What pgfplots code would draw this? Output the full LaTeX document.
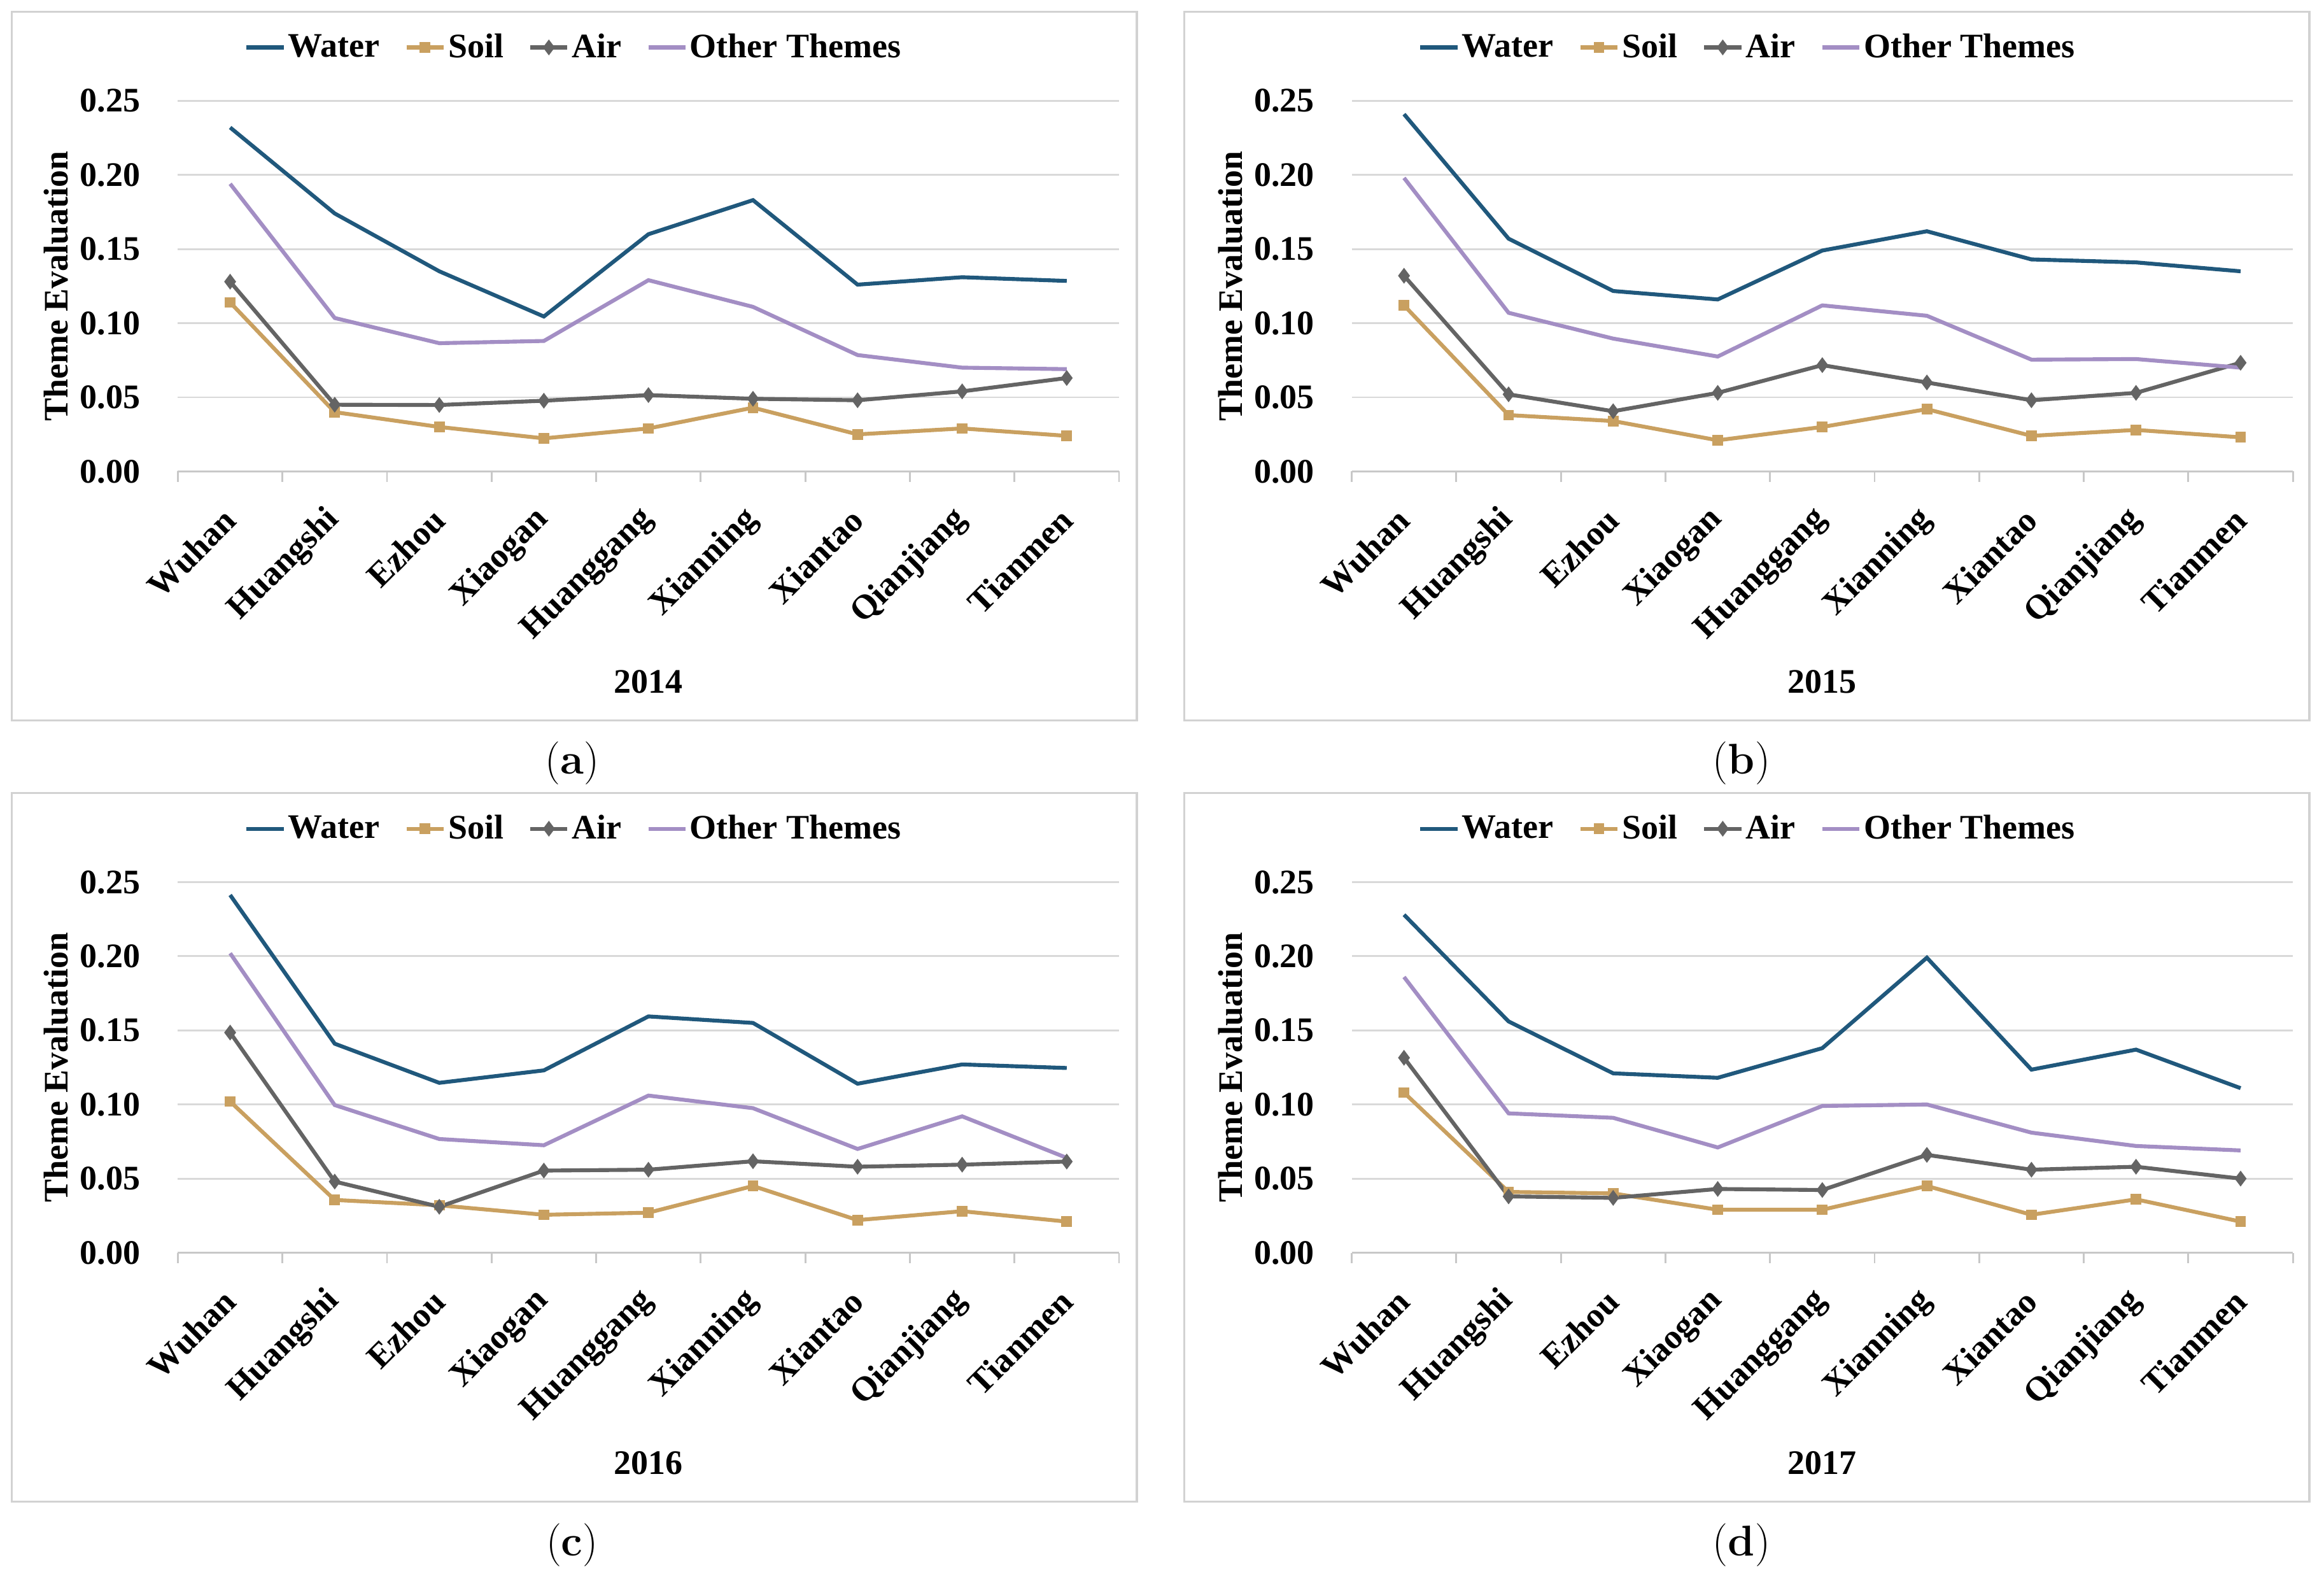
\documentclass[border=0pt]{standalone}
\usepackage{fontspec}
\usepackage{pgfplots}
\pgfplotsset{compat=1.18}
\usepackage{pgfplotstable}
\newfontfamily\tnr{Liberation Serif}
\newcommand\cf{\tnr\bfseries\fontsize{13.2pt}{15pt}\selectfont}
\newcommand\capf{\rmfamily\fontsize{16.5pt}{19pt}\selectfont}
\definecolor{cwater}{RGB}{32,88,124}
\definecolor{csoil}{RGB}{201,160,96}
\definecolor{cair}{RGB}{100,100,100}
\definecolor{cother}{RGB}{163,142,196}
\definecolor{gridgray}{RGB}{217,217,217}
\definecolor{axisgray}{RGB}{200,200,200}
\definecolor{boxgray}{RGB}{210,210,210}

\pgfplotstableread{
x water soil air other
1 0.232 0.114 0.128 0.194
2 0.174 0.040 0.045 0.1035
3 0.135 0.030 0.0448 0.0865
4 0.1045 0.0223 0.0477 0.088
5 0.160 0.029 0.0515 0.129
6 0.183 0.043 0.049 0.111
7 0.126 0.025 0.048 0.0785
8 0.131 0.029 0.054 0.070
9 0.1285 0.024 0.063 0.069
}\tabA
\pgfplotstableread{
x water soil air other
1 0.241 0.112 0.132 0.198
2 0.157 0.038 0.052 0.107
3 0.1217 0.034 0.0406 0.0896
4 0.116 0.021 0.053 0.0775
5 0.149 0.030 0.0717 0.112
6 0.162 0.042 0.060 0.105
7 0.143 0.024 0.048 0.0754
8 0.141 0.028 0.053 0.0758
9 0.135 0.023 0.0733 0.070
}\tabB
\pgfplotstableread{
x water soil air other
1 0.2413 0.102 0.1485 0.202
2 0.141 0.0356 0.048 0.0996
3 0.1146 0.032 0.031 0.0767
4 0.123 0.0256 0.0554 0.0725
5 0.1594 0.027 0.056 0.106
6 0.155 0.045 0.0617 0.0975
7 0.114 0.022 0.058 0.070
8 0.127 0.028 0.0594 0.092
9 0.1246 0.021 0.0615 0.064
}\tabC
\pgfplotstableread{
x water soil air other
1 0.228 0.108 0.1315 0.186
2 0.156 0.041 0.038 0.094
3 0.121 0.040 0.037 0.091
4 0.118 0.029 0.043 0.071
5 0.138 0.029 0.0423 0.099
6 0.199 0.045 0.066 0.100
7 0.1235 0.0256 0.056 0.081
8 0.137 0.036 0.058 0.072
9 0.111 0.021 0.050 0.069
}\tabD

\pgfplotsset{
 myaxis/.style={
  anchor=south west,
  scale only axis,
  width=127mm, height=50mm,
  xmin=0.5, xmax=9.5, ymin=0, ymax=0.25,
  ytick={0,0.05,...,0.25},
  xtick={1,...,9},
  xticklabels={Wuhan,Huangshi,Ezhou,Xiaogan,Huanggang,Xianning,Xiantao,Qianjiang,Tianmen},
  axis x line*=bottom,
  axis y line*=left,
  y axis line style={draw=none},
  x axis line style={draw=axisgray, line width=0.25mm},
  major tick length=0pt,
  tick align=outside,
  tick style={draw=axisgray, line width=0.25mm},
  extra x ticks={0.5,1.5,...,9.5},
  extra x tick labels={},
  extra x tick style={major tick length=1.4mm, grid=none},
  ymajorgrids,
  grid style={draw=gridgray, line width=0.25mm},
  /pgf/number format/assume math mode=true,
  yticklabel style={font=\cf, anchor=east, inner sep=0pt, xshift=-5mm,
    /pgf/number format/.cd, fixed, fixed zerofill, precision=2},
  xticklabel style={font=\cf, yshift=-5.8mm, rotate=45, anchor=east, inner sep=0pt},
  ylabel={Theme Evaluation},
  every axis y label/.style={at={(axis description cs:0,0.5)}, xshift=-16.4mm, rotate=90, anchor=center, font=\cf},
  every axis x label/.style={at={(axis description cs:0.5,0)}, yshift=-28.4mm, anchor=center, font=\cf},
  legend style={at={(axis description cs:0.421,1.144)}, anchor=center, draw=none, fill=none,
    font=\cf, inner sep=0pt, nodes={inner sep=0.35mm},
    /tikz/every even column/.append style={column sep=3.0mm}},
  legend columns=4,
  legend cell align=left,
  legend image code/.code={\draw[mark repeat=2, mark phase=2, ##1] plot coordinates {(0mm,0mm) (2.5mm,0mm) (5mm,0mm)};},
  clip=false,
 },
 swater/.style={cwater, line width=1.5pt, mark=none},
 ssoil/.style={csoil, line width=1.5pt, mark=square*, mark size=1.3pt},
 sair/.style={cair, line width=1.5pt, mark=diamond*, mark size=1.8pt},
 sother/.style={cother, line width=1.5pt, mark=none},
}

\newcommand\panel[3]{%
\begin{axis}[myaxis, at={#1}, xlabel={#3}]
\addplot[swater] table[x=x,y=water]{#2};
\addlegendentry{Water}
\addplot[ssoil] table[x=x,y=soil]{#2};
\addlegendentry{Soil}
\addplot[sair] table[x=x,y=air]{#2};
\addlegendentry{Air}
\addplot[sother] table[x=x,y=other]{#2};
\addlegendentry{Other Themes}
\end{axis}}

\begin{document}
\begin{tikzpicture}
\useasboundingbox (0,0) rectangle (313.6mm,213mm);
\fill[white] (0,0) rectangle (313.6mm,213mm);
\draw[boxgray, line width=0.3mm] (1.6mm,115.8mm) rectangle (153.4mm,211.4mm);
\draw[boxgray, line width=0.3mm] (159.8mm,115.8mm) rectangle (311.6mm,211.4mm);
\draw[boxgray, line width=0.3mm] (1.6mm,10.4mm) rectangle (153.4mm,106.0mm);
\draw[boxgray, line width=0.3mm] (159.8mm,10.4mm) rectangle (311.6mm,106.0mm);
\panel{(24mm,149.4mm)}{\tabA}{2014}
\panel{(182.4mm,149.4mm)}{\tabB}{2015}
\panel{(24mm,44mm)}{\tabC}{2016}
\panel{(182.4mm,44mm)}{\tabD}{2017}
\node[font=\capf] at (77.2mm,110mm) {(\textbf{a})};
\node[font=\capf] at (235mm,110mm) {(\textbf{b})};
\node[font=\capf] at (77.2mm,4.6mm) {(\textbf{c})};
\node[font=\capf] at (235mm,4.6mm) {(\textbf{d})};
\end{tikzpicture}
\end{document}
